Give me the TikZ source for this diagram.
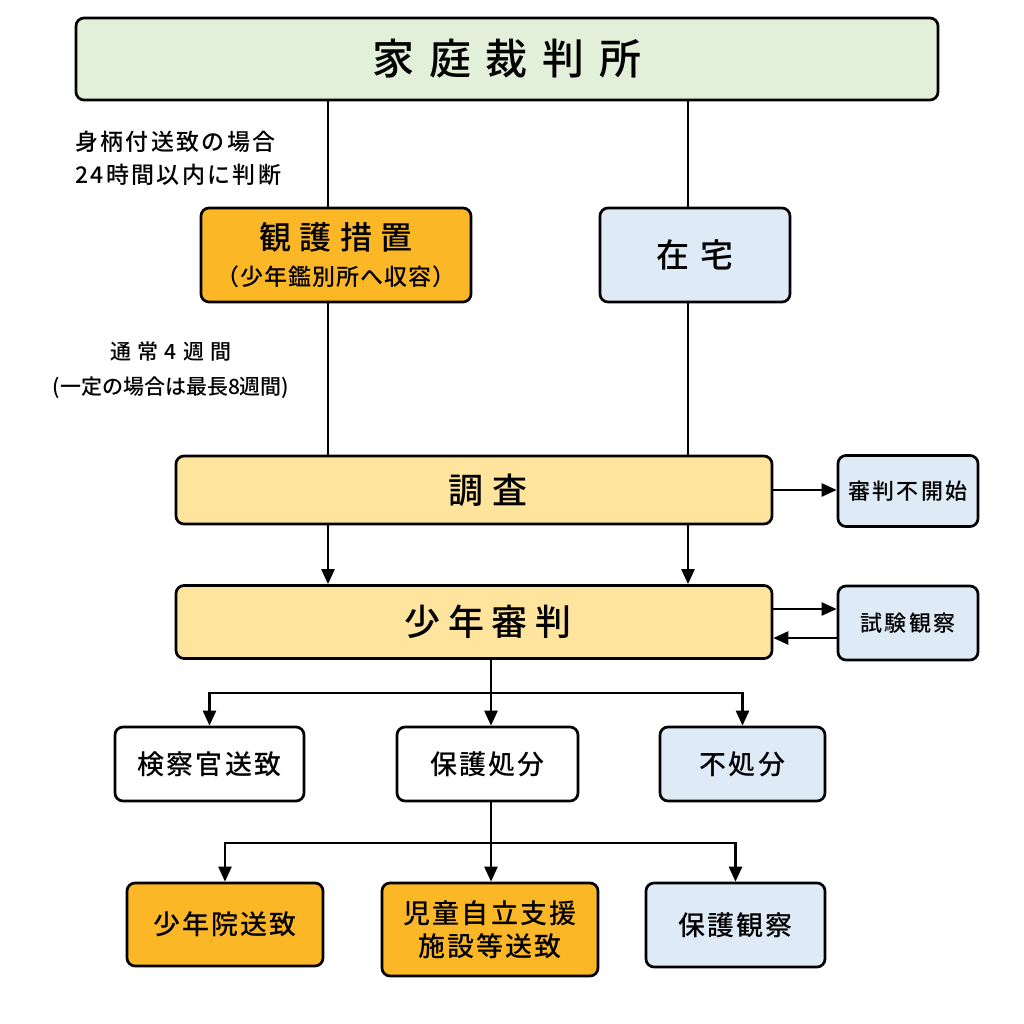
\documentclass[tikz,border=0pt]{standalone}
\usepackage{fontspec}
\setmainfont{Noto Sans CJK JP}[BoldFont={Noto Sans CJK JP Medium}]
\usetikzlibrary{arrows.meta,calc}
\definecolor{cgreen}{HTML}{E2EFD9}
\definecolor{corange}{HTML}{FBB726}
\definecolor{cyellow}{HTML}{FFE49E}
\definecolor{cblue}{HTML}{DEEBF7}
\newcommand\LS[1]{\addfontfeature{LetterSpace=#1}}
\tikzset{
  box/.style={draw=black, line width=1.35pt, rounded corners=4pt, align=center, inner sep=0pt, text=black},
  conn/.style={line width=1.25pt, draw=black},
  arr/.style={conn, -{Triangle[length=7.5pt,width=6.5pt]}},
  big/.style={font=\fontsize{18}{22}\selectfont\bfseries\LS{22}},
  mid/.style={font=\fontsize{13.5}{16.5}\selectfont\bfseries\LS{8}},
  side/.style={font=\fontsize{11}{14}\selectfont\bfseries\LS{10}},
  lbl/.style={inner sep=0pt, text=black},
}
\begin{document}
\begin{tikzpicture}[x=0.5pt,y=-0.5pt]
\fill[white] (0,0) rectangle (1024,1024);
% boxes
\node[box, fill=cgreen, minimum width=431pt, minimum height=41pt,
      font=\fontsize{21}{25}\selectfont\bfseries\LS{35}] (court) at (507,59) {家庭裁判所};
\node[box, fill=corange, minimum width=135pt, minimum height=47pt,
      font=\fontsize{11.5}{18}\selectfont\bfseries] (kango) at (336,255)
      {{\fontsize{16}{18}\selectfont\LS{26}観護措置}\\{\LS{4}（少年鑑別所へ収容）}};
\node[box, fill=cblue, minimum width=95pt, minimum height=47pt,
      font=\fontsize{16.5}{20}\selectfont\bfseries\LS{33}] (zaitaku) at (695,255) {在宅};
\node[box, big, fill=cyellow, minimum width=298pt, minimum height=34pt,
      font=\fontsize{17.5}{22}\selectfont\bfseries\LS{25}] (chosa) at (474,490) {\hspace*{14pt}調査};
\node[box, side, fill=cblue, minimum width=70pt, minimum height=35.5pt] (fukaishi) at (908,491) {審判不開始};
\node[box, big, fill=cyellow, minimum width=298pt, minimum height=36.5pt] (shinpan) at (474,622) {\hspace*{14pt}少年審判};
\node[box, side, fill=cblue, minimum width=70pt, minimum height=37pt] (shiken) at (908,623) {試験観察};
\node[box, mid, fill=white, minimum width=94.5pt, minimum height=37pt] (kensatsu) at (209.5,764) {検察官送致};
\node[box, mid, fill=white, minimum width=90.5pt, minimum height=37pt] (hogo) at (487.5,764) {保護処分};
\node[box, mid, fill=cblue, minimum width=82.5pt, minimum height=37pt] (fushobun) at (742.5,764) {不処分};
\node[box, mid, fill=corange, minimum width=98pt, minimum height=41.5pt] (shonenin) at (225,924.5) {少年院送致};
\node[box, mid, fill=corange, minimum width=108pt, minimum height=46.5pt] (jido) at (490,929.5) {児童自立支援\\施設等送致};
\node[box, mid, fill=cblue, minimum width=89.5pt, minimum height=42pt] (hogokansatsu) at (735.5,925) {保護観察};
% labels
\node[lbl, anchor=west, align=left, font=\fontsize{11.5}{16.5}\selectfont\bfseries\LS{10}] (note1) at (75,158)
      {身柄付送致の場合\\24時間以内に判断};
\node[lbl, align=center, font=\fontsize{10.5}{17.5}\selectfont\bfseries] (note2) at (171,370)
      {{\LS{30}通常4週間}\\(一定の場合は最長8週間)};
% connectors
\coordinate (L) at (328,0);
\coordinate (R) at (688,0);
\coordinate (M) at (491,0);
\draw[conn] (court.south -| L) -- (kango.north -| L);
\draw[conn] (court.south -| R) -- (zaitaku.north -| R);
\draw[conn] (kango.south -| L) -- (chosa.north -| L);
\draw[conn] (zaitaku.south -| R) -- (chosa.north -| R);
\draw[arr] (chosa.south -| L) -- (shinpan.north -| L);
\draw[arr] (chosa.south -| R) -- (shinpan.north -| R);
\draw[arr] (chosa.east) -- (chosa.east -| fukaishi.west);
\coordinate (u) at ($(shinpan.east)+(0,-13)$);
\coordinate (d) at ($(shinpan.east)+(0,16)$);
\draw[arr] (u) -- (u -| shiken.west);
\draw[arr] (d -| shiken.west) -- (d);
\coordinate (b1) at (491,693);
\draw[conn] (shinpan.south -| M) -- (b1);
\draw[arr] (b1) -| (kensatsu.north);
\draw[arr] (b1) -| (fushobun.north);
\draw[arr] (b1) -- (hogo.north -| M);
\coordinate (b2) at (491,843);
\draw[conn] (hogo.south -| M) -- (b2);
\draw[arr] (b2) -| (shonenin.north);
\draw[arr] (b2) -| (hogokansatsu.north);
\draw[arr] (b2) -- (jido.north -| M);
\end{tikzpicture}
\end{document}
